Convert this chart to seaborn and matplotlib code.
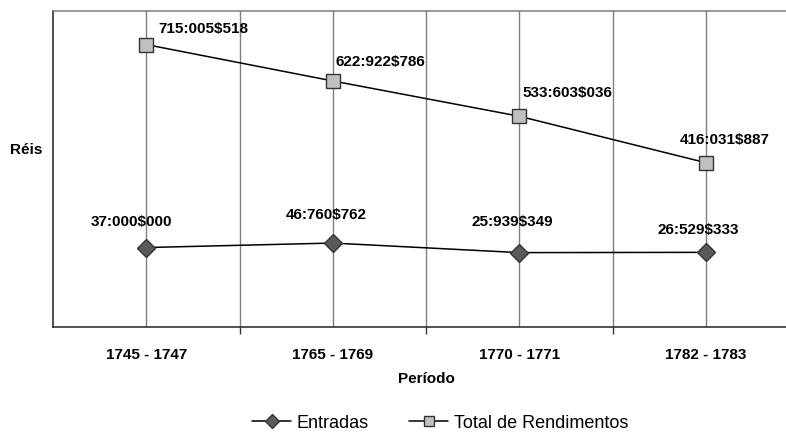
import matplotlib
matplotlib.use("Agg")
import matplotlib.pyplot as plt
import seaborn as sns
import pandas as pd
from matplotlib.lines import Line2D

# Periods and revenue figures (in réis)
periodos = ["1745 - 1747", "1765 - 1769", "1770 - 1771", "1782 - 1783"]
entradas = [37000000, 46760762, 25939349, 26529333]
total_rendimentos = [715005518, 622922786, 533603036, 416031887]

sns.set_theme(style="white")
plt.rcParams["font.family"] = ["Liberation Sans", "DejaVu Sans"]
plt.rcParams["text.color"] = "black"
plt.rcParams["axes.labelcolor"] = "black"
plt.rcParams["xtick.color"] = "black"
plt.rcParams["ytick.color"] = "black"


def reis(v):
    """Format a value in the contos:mil-réis$réis notation."""
    return f"{v // 1_000_000}:{(v // 1000) % 1000:03d}${v % 1000:03d}"


df_total = pd.DataFrame({"Período": periodos, "Réis": total_rendimentos})
df_ent = pd.DataFrame({"Período": periodos, "Réis": entradas})

fig = plt.figure(figsize=(7.86, 4.37), dpi=100)
ax = fig.add_axes([53 / 786, 110 / 437, 746 / 786, 316 / 437])
ax2 = ax.twinx()

sns.lineplot(data=df_total, x="Período", y="Réis", ax=ax, sort=False,
             color="black", linewidth=1.1, marker="s", markersize=10,
             markerfacecolor="#c0c0c0", markeredgecolor="#333333",
             markeredgewidth=1.0, zorder=5)
sns.lineplot(data=df_ent, x="Período", y="Réis", ax=ax2, sort=False,
             color="black", linewidth=1.1, marker="D", markersize=9,
             markerfacecolor="#5a5a5a", markeredgecolor="#333333",
             markeredgewidth=1.0, zorder=5)

ax.set_xlim(-0.5, 3.5)
ax.set_ylim(0, 800e6)
ax2.set_ylim(-136e6, 552e6)

# value labels
tot_off = [(57, 16), (48, 19), (48, 23), (19, 23)]
ent_off = [(-15, 26), (-7, 28), (-7, 31), (-7, 22)]
for i, v in enumerate(total_rendimentos):
    ax.annotate(reis(v), (i, v), xytext=tot_off[i], textcoords="offset pixels",
                ha="center", va="center", fontsize=11, fontweight="bold",
                color="black")
for i, v in enumerate(entradas):
    ax2.annotate(reis(v), (i, v), xytext=ent_off[i], textcoords="offset pixels",
                 ha="center", va="center", fontsize=11, fontweight="bold",
                 color="black")

# vertical grid at categories and category boundaries
ax.set_xticks(range(len(periodos)))
ax.set_xticklabels(periodos, fontsize=11, fontweight="bold", color="black")
ax.set_xticks([0.5, 1.5, 2.5], minor=True)
ax.grid(True, which="both", axis="x", color="#7f7f7f", linewidth=1.0)
ax.grid(False, axis="y")
ax.set_axisbelow(True)
ax.tick_params(axis="x", which="major", length=0, pad=15)
ax.tick_params(axis="x", which="minor", length=5, width=1, color="#333333",
               direction="out", bottom=True)
ax.set_yticks([])
ax2.set_yticks([])

for s in ax2.spines.values():
    s.set_visible(False)
ax.spines["left"].set_color("#222222")
ax.spines["bottom"].set_color("#222222")
ax.spines["top"].set_color("#7f7f7f")
ax.spines["right"].set_visible(False)
for s in ("left", "bottom", "top"):
    ax.spines[s].set_linewidth(1.1)

ax.set_xlabel("Período", fontsize=11, fontweight="bold", va="center",
              color="black")
ax.xaxis.set_label_coords((426 - 53) / 746, (327 - 379) / 316)
ax.set_ylabel("Réis", fontsize=11, fontweight="bold", rotation=0,
              ha="center", va="center", color="black")
ax.yaxis.set_label_coords((26 - 53) / 746, (327 - 150) / 316)
ax2.set_ylabel("")

handles = [
    Line2D([], [], color="black", linewidth=1.1, marker="D", markersize=7,
           markerfacecolor="#5a5a5a", markeredgecolor="#333333"),
    Line2D([], [], color="black", linewidth=1.1, marker="s", markersize=7,
           markerfacecolor="#c0c0c0", markeredgecolor="#333333"),
]
fig.legend(handles, ["Entradas", "Total de Rendimentos"], loc="center",
           bbox_to_anchor=(440 / 786, 1 - 423 / 437), ncol=2, frameon=False,
           fontsize=13, handlelength=2.2, handletextpad=0.3, columnspacing=2.2,
           labelcolor="black")

fig.savefig("out.png", dpi=100)
